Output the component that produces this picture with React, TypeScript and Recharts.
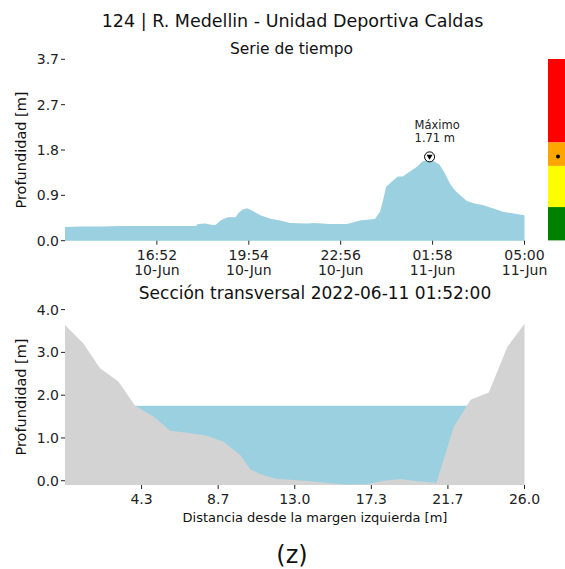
import React from 'react'
import {
  Area,
  AreaChart,
  Bar,
  ComposedChart,
  ReferenceDot,
  XAxis,
  YAxis,
} from 'recharts'

const FONT = 'DejaVu Sans'

// Serie de tiempo: minutos desde 10-Jun 13:50
const serieMin = [
  0, 32, 71, 111, 150, 190, 229, 259, 263, 278, 292, 298, 308, 322, 338, 343,
  351, 361, 371, 387, 407, 426, 446, 480, 492, 525, 559, 584, 604, 614, 624, 630,
  636, 647, 659, 669, 683, 697, 707, 717, 722, 732, 742, 752, 762, 772, 782, 796,
  811, 827, 847, 867, 886, 910,
]
const serieProf = [
  0.28, 0.29, 0.29, 0.3, 0.3, 0.3, 0.3, 0.3, 0.34, 0.35, 0.32, 0.32, 0.41, 0.48, 0.48, 0.56,
  0.63, 0.66, 0.61, 0.52, 0.45, 0.41, 0.36, 0.35, 0.36, 0.34, 0.34, 0.41, 0.43, 0.45, 0.59, 0.83,
  1.1, 1.2, 1.31, 1.31, 1.41, 1.51, 1.61, 1.65, 1.71, 1.61, 1.55, 1.38, 1.17, 1.03, 0.93, 0.81,
  0.76, 0.73, 0.66, 0.59, 0.56, 0.52,
]
const tiempoTicks = [182, 364, 546, 728, 910]
const tiempoHora = ['16:52', '19:54', '22:56', '01:58', '05:00']
const tiempoDia = ['10-Jun', '10-Jun', '10-Jun', '11-Jun', '11-Jun']
const profTicks = [0, 0.925, 1.85, 2.775, 3.7]
const profLabels = ['0.0', '0.9', '1.8', '2.7', '3.7']

const maxMin = 722
const maxProf = 1.71

// Umbrales de alerta (tope de cada franja)
const umbralNombre = ['verde', 'amarillo', 'naranja', 'rojo']
const umbralTope = [0.68, 1.52, 2.0, 3.7]

// Sección transversal
const seccionDist = [
  0, 1.04, 1.98, 3.02, 3.97, 5.0, 5.95, 6.9, 8.03, 8.97, 9.92, 10.48, 11.05, 12.0, 12.75,
  14.07, 15.01, 15.96, 17.09, 18.04, 18.98, 19.93, 21.02, 22.0, 22.74, 22.95, 23.98, 25.03, 26.0,
]
const seccionCota = [
  3.64, 3.21, 2.63, 2.32, 1.75, 1.5, 1.17, 1.12, 1.05, 0.91, 0.6, 0.27, 0.15, 0.04, 0.02,
  -0.02, -0.06, -0.09, -0.08, 0.0, 0.04, -0.01, -0.05, 1.26, 1.75, 1.89, 2.06, 3.13, 3.67,
]
const nivelAgua = 1.75
const distTicks = [26 / 6, 52 / 6, 78 / 6, 104 / 6, 130 / 6, 26]
const cotaTicks = [0, 1, 2, 3, 4]

const serie = serieMin.map((t, i) => ({ t, h: serieProf[i] }))
const seccion = seccionDist.map((d, i) => ({
  d,
  terreno: seccionCota[i],
  agua: seccionCota[i] <= nivelAgua ? nivelAgua : null,
}))
const umbralRow: any = { n: 'nivel' }
umbralNombre.forEach((k, i) => {
  umbralRow[k] = umbralTope[i] - (i > 0 ? umbralTope[i - 1] : 0)
})
const umbralColor: Record<string, string> = {
  verde: '#008000',
  amarillo: '#ffff00',
  naranja: '#ffa500',
  rojo: '#ff0000',
}

const tickStyle = { fontSize: 14, fill: '#222', fontFamily: FONT }

const TiempoTick = ({ x, y, payload }: any) => {
  const i = tiempoTicks.indexOf(payload.value)
  return (
    <text x={x} y={y} textAnchor="middle" {...tickStyle}>
      <tspan x={x} dy={13}>{tiempoHora[i]}</tspan>
      <tspan x={x} dy={15.5}>{tiempoDia[i]}</tspan>
    </text>
  )
}

const MaxMarker = ({ cx, cy }: any) => (
  <g>
    <circle cx={cx} cy={cy} r={5} fill="#fff" stroke="#000" strokeWidth={1} />
    <path d={`M${cx - 3},${cy - 2} L${cx + 3},${cy - 2} L${cx},${cy + 3} Z`} fill="#000" />
    <text x={cx - 15} y={cy - 28} fontSize={11.5} fill="#222" fontFamily={FONT}>
      Máximo
    </text>
    <text x={cx - 15} y={cy - 14.5} fontSize={11.5} fill="#222" fontFamily={FONT}>
      {`${maxProf.toFixed(2)} m`}
    </text>
  </g>
)

export default function App() {
  return (
    <div
      style={{
        position: 'absolute',
        left: 0,
        top: 0,
        width: 565,
        height: 569,
        overflow: 'hidden',
        background: '#fff',
        fontFamily: FONT,
      }}
    >
      <div style={{ position: 'absolute', left: 0, top: 0 }}>
        <AreaChart
          width={565}
          height={290}
          data={serie}
          margin={{ top: 59.3, right: 40.5, bottom: 9.3, left: 0 }}
        >
          <XAxis
            dataKey="t"
            type="number"
            domain={[0, 910]}
            ticks={tiempoTicks}
            tick={<TiempoTick />}
            tickSize={4}
            tickLine={{ stroke: '#222' }}
            axisLine={false}
            height={40}
            interval={0}
          />
          <YAxis
            type="number"
            domain={[0, 3.7]}
            ticks={profTicks}
            tickFormatter={(v: number) => profLabels[profTicks.indexOf(v)]}
            tick={tickStyle}
            tickSize={4}
            tickLine={{ stroke: '#222' }}
            axisLine={false}
            width={65}
            interval={0}
          />
          <Area
            dataKey="h"
            type="linear"
            stroke="none"
            fill="#9bd0e0"
            fillOpacity={1}
            isAnimationActive={false}
          />
          <ReferenceDot x={maxMin} y={maxProf} shape={<MaxMarker />} />
        </AreaChart>
      </div>

      <div style={{ position: 'absolute', left: 547.5, top: 59.3 }}>
        <ComposedChart
          width={20}
          height={181.4}
          data={[umbralRow]}
          margin={{ top: 0, right: 0, bottom: 0, left: 0 }}
          barCategoryGap={0}
          barGap={0}
        >
          <XAxis dataKey="n" type="category" hide />
          <YAxis type="number" domain={[0, 3.7]} hide />
          {umbralNombre.map((k) => (
            <Bar key={k} dataKey={k} stackId="u" fill={umbralColor[k]} isAnimationActive={false} />
          ))}
          <ReferenceDot x="nivel" y={maxProf} r={2} fill="#000" stroke="none" />
        </ComposedChart>
      </div>

      <div style={{ position: 'absolute', left: 0, top: 290 }}>
        <ComposedChart
          width={565}
          height={240}
          data={seccion}
          margin={{ top: 19.6, right: 40.5, bottom: 15, left: 0 }}
        >
          <XAxis
            dataKey="d"
            type="number"
            domain={[0, 26]}
            ticks={distTicks}
            tickFormatter={(v: number) => v.toFixed(1)}
            tick={tickStyle}
            tickSize={4}
            tickMargin={5}
            tickLine={{ stroke: '#222' }}
            axisLine={false}
            height={30}
            interval={0}
          />
          <YAxis
            type="number"
            domain={[-0.1, 4]}
            ticks={cotaTicks}
            tickFormatter={(v: number) => v.toFixed(1)}
            tick={tickStyle}
            tickSize={4}
            tickLine={{ stroke: '#222' }}
            axisLine={false}
            width={65}
            interval={0}
          />
          <Area
            dataKey="agua"
            type="linear"
            stroke="none"
            fill="#9bd0e0"
            fillOpacity={1}
            baseValue="dataMin"
            isAnimationActive={false}
          />
          <Area
            dataKey="terreno"
            type="linear"
            stroke="none"
            fill="#d3d3d3"
            fillOpacity={1}
            baseValue="dataMin"
            isAnimationActive={false}
          />
        </ComposedChart>
      </div>

      <svg
        width={565}
        height={569}
        style={{ position: 'absolute', left: 0, top: 0, pointerEvents: 'none' }}
        fontFamily={FONT}
        fill="#111"
      >
        <text x={292.5} y={26.5} fontSize={17.5} textAnchor="middle">
          124 | R. Medellin - Unidad Deportiva Caldas
        </text>
        <text x={291.5} y={53.5} fontSize={15.5} textAnchor="middle">
          Serie de tiempo
        </text>
        <text x={315} y={299} fontSize={17} textAnchor="middle">
          Sección transversal 2022-06-11 01:52:00
        </text>
        <text x={315} y={521.5} fontSize={13} textAnchor="middle">
          Distancia desde la margen izquierda [m]
        </text>
        <text x={292} y={563} fontSize={24} textAnchor="middle">
          (z)
        </text>
        <text transform="translate(26,150) rotate(-90)" fontSize={14.5} textAnchor="middle">
          Profundidad [m]
        </text>
        <text transform="translate(26,397) rotate(-90)" fontSize={14.5} textAnchor="middle">
          Profundidad [m]
        </text>
      </svg>
    </div>
  )
}
